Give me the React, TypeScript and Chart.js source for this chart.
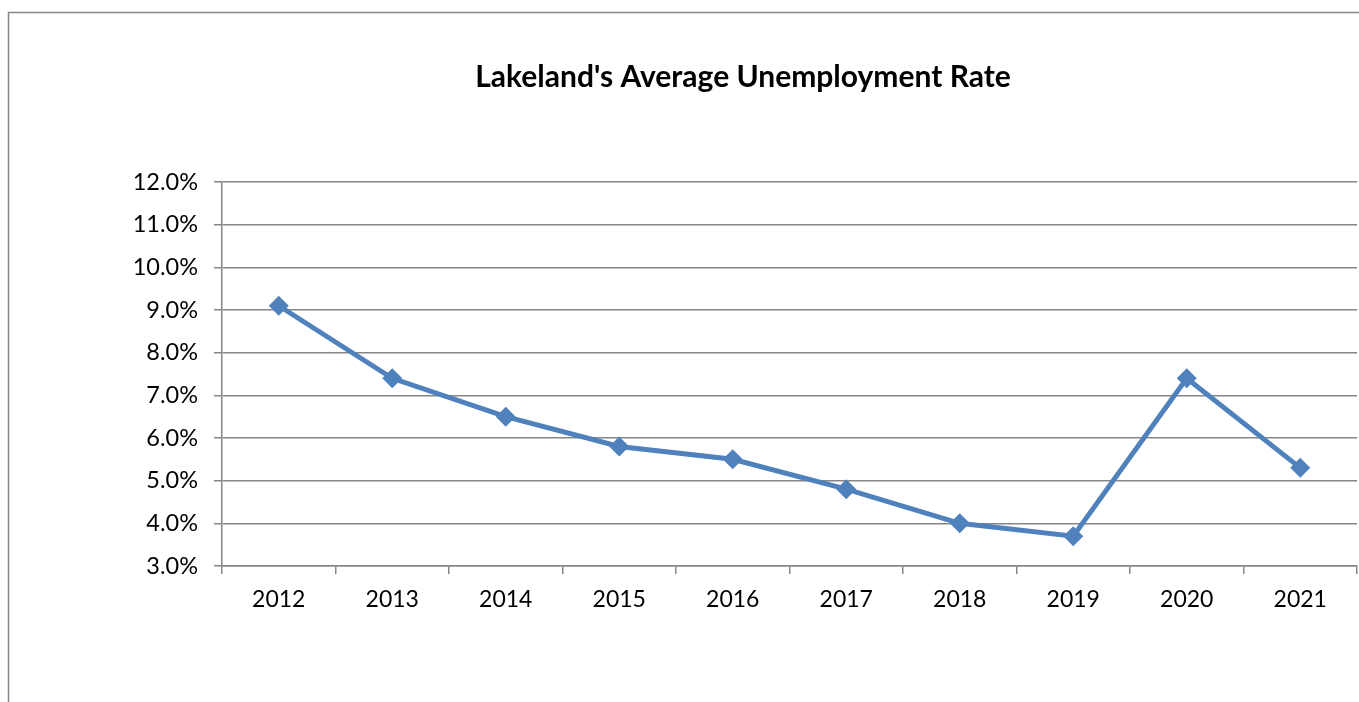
import React, { useEffect, useRef } from "react";
import { Chart, registerables } from "chart.js";

Chart.register(...registerables);

const TITLE = "Lakeland's Average Unemployment Rate";
const years = ["2012", "2013", "2014", "2015", "2016", "2017", "2018", "2019", "2020", "2021"];
const rates = [9.1, 7.4, 6.5, 5.8, 5.5, 4.8, 4.0, 3.7, 7.4, 5.3];
const Y_MIN = 3;
const Y_MAX = 12;

const FONT = "Lato, 'Open Sans', sans-serif";
const CANVAS_W = 1367;
const CANVAS_H = 702;

export default function App() {
  const ref = useRef<HTMLCanvasElement | null>(null);
  useEffect(() => {
    if (!ref.current) return;
    const framePlugin = {
      id: "frame",
      beforeDraw(chart: any) {
        const ctx = chart.ctx;
        ctx.save();
        ctx.fillStyle = "#ffffff";
        ctx.fillRect(0, 0, chart.width, chart.height);
        ctx.strokeStyle = "#868686";
        ctx.lineWidth = 1.5;
        ctx.strokeRect(8.5, 12.5, chart.width + 20, chart.height + 20);
        ctx.fillStyle = "#000000";
        ctx.font = `bold 30px ${FONT}`;
        ctx.textAlign = "center";
        ctx.textBaseline = "middle";
        ctx.fillText(TITLE, 743, 77);
        ctx.restore();
      },
    };
    const chart = new Chart(ref.current, {
      type: "line",
      data: {
        labels: years,
        datasets: [
          {
            data: rates,
            borderColor: "#4F81BD",
            backgroundColor: "#4F81BD",
            borderWidth: 5,
            pointStyle: "rectRot",
            pointRadius: 10,
            pointHoverRadius: 10,
            pointBorderWidth: 0,
            tension: 0,
          },
        ],
      },
      options: {
        responsive: false,
        animation: false,
        layout: { padding: { top: 182, right: 0, left: 0, bottom: 0 } },
        plugins: {
          legend: { display: false },
          title: { display: false },
          tooltip: { enabled: false },
        },
        scales: {
          x: {
            offset: true,
            grid: {
              offset: true,
              drawOnChartArea: false,
              drawTicks: true,
              tickLength: 8,
              color: "#868686",
              lineWidth: 1.5,
            },
            border: { color: "#868686", width: 1.5 },
            ticks: { color: "#000", font: { family: FONT, size: 23 }, padding: 12, maxRotation: 0 },
            afterFit(scale: any) {
              scale.height = 136;
              scale.paddingLeft = 0;
              scale.paddingRight = 0;
            },
          },
          y: {
            min: Y_MIN,
            max: Y_MAX,
            grid: {
              drawTicks: true,
              tickLength: 8,
              color: "#868686",
              lineWidth: 1.5,
            },
            border: { color: "#868686", width: 1.5 },
            ticks: {
              stepSize: 1,
              color: "#000",
              font: { family: FONT, size: 23.5 },
              padding: 16,
              callback: (v: any) => Number(v).toFixed(1) + "%",
            },
            afterFit(scale: any) {
              scale.width = 222;
              scale.paddingTop = 0;
              scale.paddingBottom = 0;
            },
          },
        },
      },
      plugins: [framePlugin],
    });
    return () => chart.destroy();
  }, []);
  return (
    <div
      style={{ position: "absolute", left: 0, top: 0, width: 1359, height: 702, overflow: "hidden" }}
    >
      <canvas
        ref={ref}
        width={CANVAS_W}
        height={CANVAS_H}
        style={{ display: "block", width: CANVAS_W, height: CANVAS_H }}
      />
    </div>
  );
}
